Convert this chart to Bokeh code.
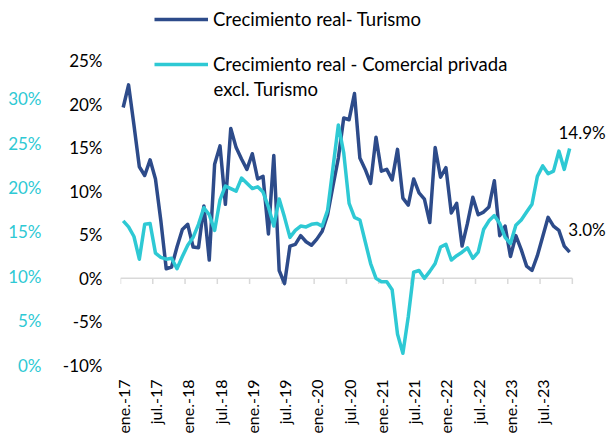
import math
from bokeh.plotting import figure
from bokeh.models import (Range1d, LinearAxis, FixedTicker, Legend, LegendItem,
                          Label, PrintfTickFormatter)
from bokeh.embed import file_html
from bokeh.resources import INLINE

# ---- data (monthly, ene.-17 .. dic.-23) ----
turismo = [19.6, 22.2, 17.6, 12.8, 11.8, 13.6, 11.4, 6.6, 1.1, 1.3,
           3.6, 5.6, 6.2, 3.6, 3.5, 8.3, 2.1, 13.1, 15.2, 8.5,
           17.2, 15.0, 13.7, 12.5, 14.3, 11.4, 11.7, 5.1, 14.1, 0.9,
           -0.6, 3.7, 3.9, 4.9, 4.2, 3.8, 4.5, 5.4, 7.3, 10.6,
           13.8, 18.4, 18.2, 21.2, 13.8, 12.5, 10.9, 16.2, 12.3, 12.5,
           11.3, 14.8, 9.2, 8.4, 11.4, 9.8, 9.1, 6.4, 15.0, 11.6,
           12.7, 7.5, 8.6, 3.7, 6.3, 9.3, 7.3, 7.6, 8.2, 11.2,
           4.9, 6.0, 2.5, 4.9, 3.3, 1.4, 0.9, 2.6, 4.8, 7.0,
           6.0, 5.5, 3.7, 3.0]
comercial = [6.6, 5.9, 4.8, 2.2, 6.2, 6.3, 2.9, 2.4, 2.2, 2.3,
             1.1, 2.5, 3.8, 4.7, 6.2, 8.1, 7.3, 5.5, 9.0, 10.6,
             10.3, 10.0, 11.5, 10.9, 10.3, 10.5, 9.9, 8.2, 6.0, 9.1,
             7.0, 4.7, 5.5, 6.0, 5.9, 6.2, 6.3, 6.0, 7.8, 12.7,
             17.6, 14.4, 8.6, 7.0, 6.7, 4.2, 1.7, 0.0, -0.4, -0.4,
             -1.3, -6.4, -8.6, -4.4, 0.7, 0.9, 0.0, 0.8, 1.7, 3.6,
             3.9, 2.1, 2.6, 3.0, 3.5, 2.3, 3.0, 5.6, 6.6, 7.2,
             6.3, 4.7, 4.0, 6.1, 6.7, 7.6, 8.5, 11.7, 12.9, 12.0,
             12.3, 14.6, 12.5, 14.9]
month_idx = list(range(len(turismo)))

x_tick_pos = [0, 6, 12, 18, 24, 30, 36, 42, 48, 54, 60, 66, 72, 78]
x_tick_labels = ["ene.-17", "jul.-17", "ene.-18", "jul.-18", "ene.-19", "jul.-19",
                 "ene.-20", "jul.-20", "ene.-21", "jul.-21", "ene.-22", "jul.-22",
                 "ene.-23", "jul.-23"]
left_ticks = [-10, -5, 0, 5, 10, 15, 20, 25]
cyan_ticks = [0, 5, 10, 15, 20, 25, 30]

label_turismo = "Crecimiento real- Turismo"
label_comercial = "Crecimiento real - Comercial privada"
label_comercial_2 = "excl. Turismo"

BLUE = "#2D4B8A"
CYAN = "#2EC9D4"
FONT = "Lato"

# frame spans to the right/top canvas edges so that legend and end labels are not clipped
p = figure(width=609, height=437, x_range=Range1d(-0.5, 90.41), y_range=Range1d(-10, 31.88),
           x_axis_type=None, y_axis_type=None,
           output_backend="svg", toolbar_location=None,
           min_border_left=120, min_border_right=0, min_border_top=0, min_border_bottom=72)
p.outline_line_color = None
p.background_fill_color = "white"
p.extra_y_ranges = {"cyan": Range1d(-0.05, 41.07)}

def style_axis(ax, color, standoff):
    ax.axis_line_color = None
    ax.major_tick_line_color = None
    ax.minor_tick_line_color = None
    ax.major_tick_out = 0
    ax.major_tick_in = 0
    ax.major_label_standoff = standoff
    ax.major_label_text_font = FONT
    ax.major_label_text_font_size = "17px"
    ax.major_label_text_color = color

yax = LinearAxis(ticker=FixedTicker(ticks=left_ticks), formatter=PrintfTickFormatter(format="%d%%"))
style_axis(yax, "#000000", 18)
p.add_layout(yax, "left")

cax = LinearAxis(y_range_name="cyan", ticker=FixedTicker(ticks=cyan_ticks),
                 formatter=PrintfTickFormatter(format="%d%%"))
style_axis(cax, CYAN, 18)
p.add_layout(cax, "left")

xax = LinearAxis(ticker=FixedTicker(ticks=x_tick_pos),
                 major_label_overrides={t: l for t, l in zip(x_tick_pos, x_tick_labels)})
style_axis(xax, "#000000", 14)
xax.major_label_text_font_size = "16px"
xax.major_label_orientation = math.pi / 2
p.add_layout(xax, "below")

# zero line with category-boundary tick marks
bounds = [t - 0.5 for t in range(0, len(turismo) + 1, 6)]
p.line([bounds[0], bounds[-1]], [0, 0], line_color="#D9D9D9", line_width=1.5)
p.segment(x0=bounds, y0=[0] * len(bounds), x1=bounds, y1=[-0.65] * len(bounds),
          line_color="#D9D9D9", line_width=1.5)

r1 = p.line(month_idx, turismo, line_color=BLUE, line_width=3.5, line_join="round")
r2 = p.line(month_idx, comercial, line_color=CYAN, line_width=3.5, line_join="round")

legend = Legend(items=[LegendItem(label=label_turismo, renderers=[r1]),
                       LegendItem(label=label_comercial, renderers=[r2])],
                location=(34, 290), orientation="vertical",
                border_line_color=None, background_fill_alpha=0,
                padding=0, margin=0, spacing=23,
                glyph_width=54, glyph_height=22, label_height=22, label_standoff=5,
                label_text_font=FONT, label_text_font_size="18.5px", label_text_color="#000000")
p.add_layout(legend)
p.add_layout(Label(x=93, y=277, x_units="screen", y_units="screen", text=label_comercial_2,
                   text_font=FONT, text_font_size="18.5px", text_baseline="middle",
                   text_align="left", text_color="#000000"))

# end-of-series labels
p.add_layout(Label(x=month_idx[-1], y=comercial[-1], text=f"{comercial[-1]:.1f}%",
                   x_offset=36, y_offset=16, text_align="right", text_baseline="middle",
                   text_font=FONT, text_font_size="17px", text_color="#000000"))
p.add_layout(Label(x=month_idx[-1], y=turismo[-1], text=f"{turismo[-1]:.1f}%",
                   x_offset=36, y_offset=23, text_align="right", text_baseline="middle",
                   text_font=FONT, text_font_size="17px", text_color="#000000"))

open("out.html", "w").write(file_html(p, INLINE))
